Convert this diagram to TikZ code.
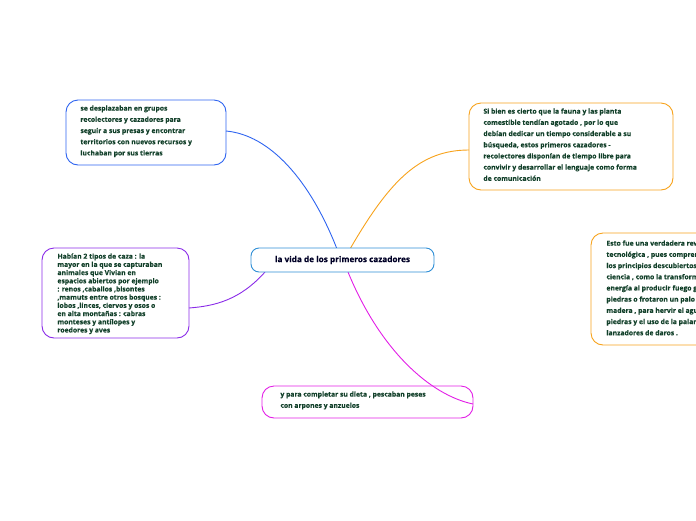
\documentclass[tikz,border=0pt]{standalone}
\usepackage{fontspec}
\setmainfont{Open Sans}[BoldFeatures={FakeBold=0.3}]
\begin{document}
\begin{tikzpicture}[x=1pt,y=-1pt,
 box/.style={draw,rounded corners=12pt,line width=0.9pt,fill=white,align=left,font=\fontsize{6.8}{11.2}\selectfont\bfseries,text=txt,inner sep=0pt,anchor=north west},
 con/.style={line width=0.9pt}]
\definecolor{txt}{HTML}{12402A}
\definecolor{cblue}{HTML}{2E64F0}
\definecolor{corange}{HTML}{F7A21B}
\definecolor{cpurple}{HTML}{8A2BE8}
\definecolor{cmag}{HTML}{E21FE6}
\definecolor{ccent}{HTML}{2F8FD6}
\useasboundingbox (0,0) rectangle (696,520);
\clip (0,0) rectangle (696,520);
\draw[cblue,line width=0.9pt,rounded corners=12pt] (66,100) rectangle (226,165);
\node[box,draw=none] (tl) at (80,105) {se desplazaban  en grupos\\recolectores y cazadores para\\seguir a sus presas y encontrar\\territorios con nuevos recursos y\\luchaban por sus tierras};
\draw[cpurple,line width=0.9pt,rounded corners=12pt] (42,248) rectangle (189,338);
\node[box,draw=none,font=\fontsize{6.8}{8.2}\selectfont\bfseries] (l) at (57,253) {Habían 2 tipos de caza : la\\mayor en la que se capturaban\\animales que Vivian en\\espacios abiertos por ejemplo\\: renos ,caballos ,bisontes\\,mamuts entre otros bosques :\\lobos ,linces, ciervos y osos o\\en alta montañas : cabras\\monteses y antílopes y\\roedores y aves};
\draw[corange,line width=0.9pt,rounded corners=12pt] (469,103) rectangle (673,190);
\node[box,draw=none] (tr) at (483,108) {Si bien es cierto que la fauna y las planta\\comestible tendían agotado , por lo que\\debían  dedicar un tiempo considerable a su\\búsqueda, estos primeros cazadores -\\recolectores disponían de tiempo  libre para\\convivir y desarrollar el lenguaje como forma\\de comunicación};
\draw[corange,line width=0.9pt,rounded corners=12pt] (591,233) rectangle (730,345);
\node[box,draw=none] (r) at (606,240) {Esto fue  una verdadera revolución\\tecnológica , pues comprendieron\\los principios descubiertos por la\\ciencia  , como la transformación de\\energía  al producir fuego golpeando\\piedras o frotaron un palo de\\madera , para hervir el agua con\\piedras y el uso de la palanca en los\\lanzadores de daros .};
\draw[cmag,line width=0.9pt,rounded corners=12pt] (262,386) rectangle (473,418);
\node[box,draw=none] (b) at (280,391) {y para completar su dieta , pescaban peses\\con arpones  y anzuelos};
\coordinate (tlE) at (226,131);
\coordinate (lE) at (189,308);
\coordinate (trW) at (469,150);
\coordinate (bE) at (473,404);
\draw[con,cblue] (337,249) .. controls (310,180) and (270,135) .. (tlE);
\draw[con,corange] (350,249) .. controls (390,180) and (420,150) .. (trW);
\draw[con,cpurple] (265,272) .. controls (240,300) and (215,306) .. (lE);
\draw[con,cmag] (348,272) .. controls (380,350) and (430,395) .. (bE);
\node[draw=ccent,fill=white,rounded corners=8pt,line width=0.9pt,minimum width=183pt,minimum height=24pt,font=\fontsize{8.2}{10}\selectfont\bfseries,text=black!85!blue] (c) at (342.5,260) {la vida de los primeros cazadores};
\end{tikzpicture}
\end{document}
